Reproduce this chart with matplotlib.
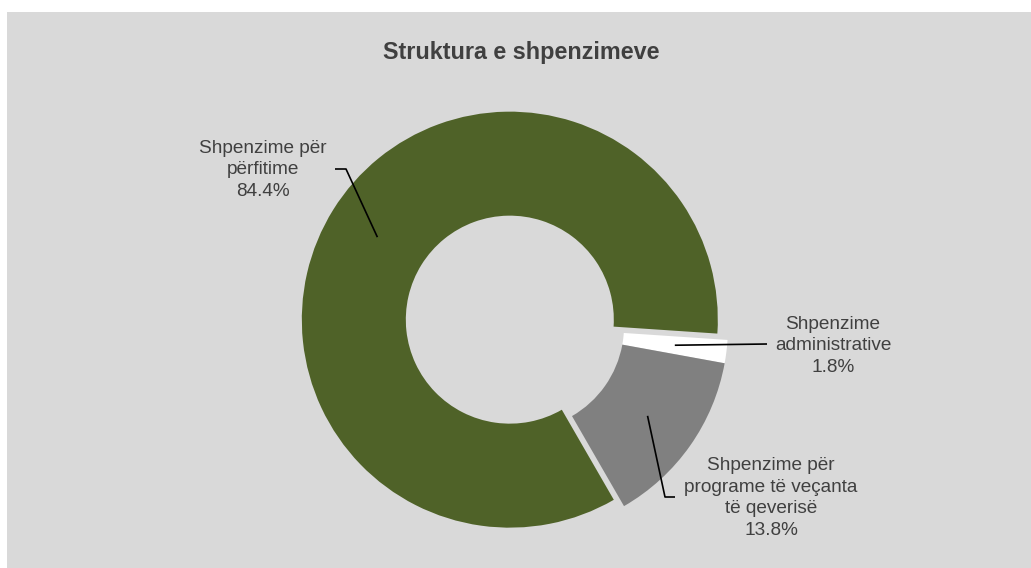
import math
import matplotlib
matplotlib.use("Agg")
import matplotlib.pyplot as plt
from matplotlib.patches import Rectangle

# data
categories = ["Shpenzime për\npërfitime",
              "Shpenzime\nadministrative",
              "Shpenzime për\nprograme të veçanta\ntë qeverisë"]
shares = [84.4, 1.8, 13.8]
colors = ["#4f6228", "#ffffff", "#808080"]
title = "Struktura e shpenzimeve"

W, H = 1031, 568
fig = plt.figure(figsize=(W / 100, H / 100), dpi=100)
fig.patch.set_facecolor("white")

ax = fig.add_axes([0, 0, 1, 1])
ax.axis("off")
# chart area background
ax.add_patch(Rectangle((7, 0), W - 7, H - 12, facecolor="#d9d9d9",
                       edgecolor="none", zorder=0))

cx, cy = 520, H - 326
R = 208
wedges, _ = ax.pie(shares, colors=colors, center=(cx, cy), radius=R,
                   startangle=-60, counterclock=False, explode=[12, 0, 0],
                   wedgeprops=dict(width=R / 2, linewidth=0, zorder=2))
ax.set_xlim(0, W)
ax.set_ylim(0, H)
ax.set_aspect("equal")

txt = dict(fontsize=13.7, color="#404040", family="Liberation Sans",
           ha="center", va="center", linespacing=1.35, zorder=6)

# label positions and leader-line elbows (pixel layout)
label_pos = [(263, H - 170), (833, H - 346), (771, H - 498)]
elbows = [[(346, H - 169), (335, H - 169)],
          [(767, H - 344)],
          [(665, H - 497), (675, H - 497)]]

for w, cat, val, pos, elb in zip(wedges, categories, shares, label_pos, elbows):
    mid = math.radians((w.theta1 + w.theta2) / 2)
    rr = w.r - w.width / 2
    ax0, ay0 = w.center
    anchor = (ax0 + rr * math.cos(mid), ay0 + rr * math.sin(mid))
    pts = [anchor] + elb
    ax.plot([p[0] for p in pts], [p[1] for p in pts], color="black", lw=1.2,
            solid_capstyle="butt", zorder=5)
    ax.text(pos[0], pos[1], f"{cat}\n{val:.1f}%", **txt)

ax.text(521, H - 52, title, fontsize=16.8, fontweight="bold", color="#404040",
        family="Liberation Sans", ha="center", va="center", zorder=6)

fig.savefig("out.png", dpi=100, facecolor="white")
